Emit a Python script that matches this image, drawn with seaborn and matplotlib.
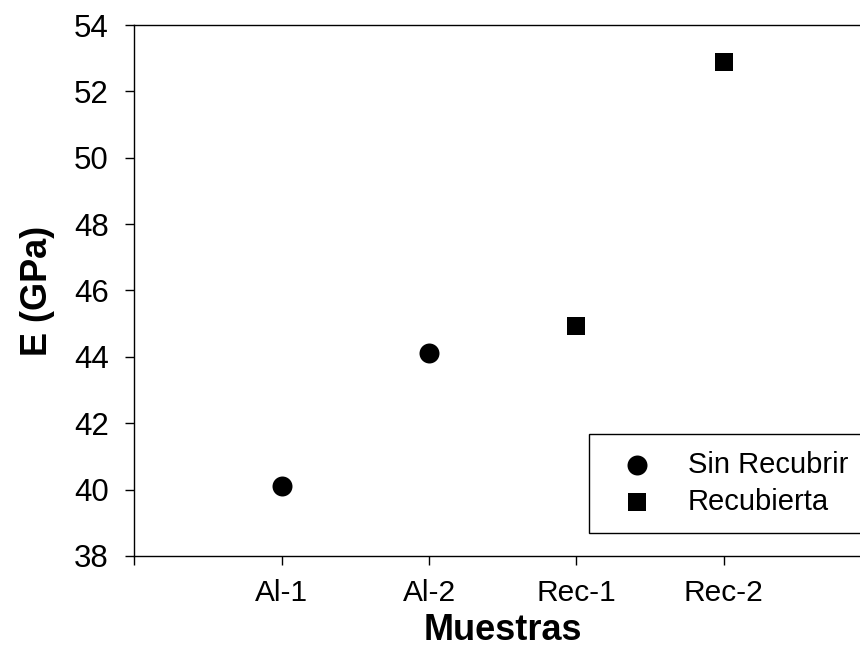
import matplotlib
matplotlib.use("Agg")
import matplotlib.pyplot as plt
import seaborn as sns
import pandas as pd

# valores
muestras = ["Al-1", "Al-2", "Rec-1", "Rec-2"]
modulo_E = [40.12, 44.12, 44.93, 52.89]
grupo = ["Sin Recubrir", "Sin Recubrir", "Recubierta", "Recubierta"]

df = pd.DataFrame({"muestra": muestras, "E": modulo_E, "grupo": grupo})
df["pos"] = range(1, len(muestras) + 1)

sns.set_style("white")
plt.rcParams["font.family"] = ["Liberation Sans", "DejaVu Sans"]

fig = plt.figure(figsize=(8.6, 6.48), dpi=100)
ax = fig.add_axes([0.1563, 0.1420, 0.8437, 0.8194])

marcadores = {"Sin Recubrir": ("o", 207), "Recubierta": ("s", 180)}
for g, (m, s) in marcadores.items():
    sub = df[df["grupo"] == g]
    sns.scatterplot(data=sub, x="pos", y="E", marker=m, s=s, color="black",
                    edgecolor="black", linewidth=0, label=g, ax=ax)

ax.set_xlim(0, 4.926)
ax.set_ylim(38, 54)
ax.set_xticks([0] + list(df["pos"]))
ax.set_xticklabels([""] + muestras)
ax.set_yticks(range(38, 55, 2))

for side in ["left", "bottom", "top"]:
    ax.spines[side].set_color("black")
    ax.spines[side].set_linewidth(1.0)
ax.spines["right"].set_visible(False)

ax.tick_params(axis="both", direction="out", length=6.5, width=1.0,
               color="black", labelsize=21.5, labelcolor="black")
ax.tick_params(axis="y", pad=12, left=True, labelsize=22.5)
ax.tick_params(axis="x", pad=10, bottom=True)

ax.set_xlabel("Muestras", fontsize=26, fontweight="bold", color="black")
ax.set_ylabel("E (GPa)", fontsize=26, fontweight="bold", color="black")
ax.yaxis.set_label_coords(-0.109, 0.5)
ax.xaxis.set_label_coords(0.508, -0.107)

leg = ax.legend(loc="lower left", bbox_to_anchor=(0.6265, 0.0433),
                borderaxespad=0, fontsize=21, frameon=True, fancybox=False,
                edgecolor="black", framealpha=1, handletextpad=0.66,
                borderpad=0.58, labelspacing=0.32, handlelength=2.14)
leg.get_frame().set_linewidth(1.0)
for t in leg.get_texts():
    t.set_color("black")

plt.savefig("out.png", dpi=100)
